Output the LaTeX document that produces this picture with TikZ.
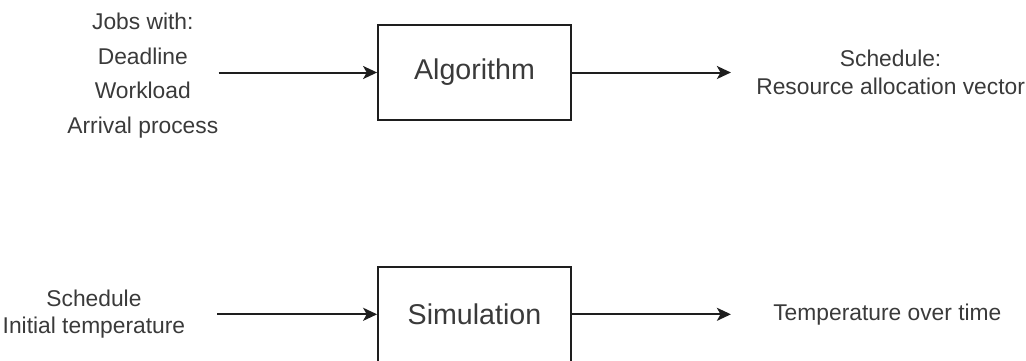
\documentclass[tikz,border=0pt]{standalone}
\usepackage{fontspec}
\setmainfont{Liberation Sans}
\usetikzlibrary{positioning,arrows.meta}
\definecolor{lbltext}{RGB}{58,58,58}
\definecolor{linedark}{RGB}{30,30,30}
\tikzset{
  procbox/.style={draw=linedark,line width=0.9pt,fill=white,text=lbltext,
    minimum width=96.5pt,minimum height=47.5pt,inner sep=0pt,
    font=\fontsize{14.3pt}{17pt}\selectfont},
  iolbl/.style={text=lbltext,align=center,inner ysep=0pt,inner xsep=0pt,
    font=\fontsize{11.4pt}{13.7pt}\selectfont},
  flow/.style={-{Stealth[length=7pt,width=6.5pt,inset=1.8pt]},line width=1pt,linedark},
}
\begin{document}
\begin{tikzpicture}
\useasboundingbox (0,0) rectangle (513pt,-180pt);
% upper row
\node[procbox] (alg) at (237.25pt,-36.25pt) {Algorithm};
\node[iolbl,font=\fontsize{11.4pt}{17.25pt}\selectfont,left=79.25pt of alg,yshift=-1.5pt] (jobs)
  {Jobs with:\\Deadline\\Workload\\Arrival process};
\node[iolbl,inner xsep=12.5pt,right=79.5pt of alg] (sched) {Schedule:\\Resource allocation vector};
% lower row
\node[procbox,below=72.5pt of alg] (sim) {Simulation};
\node[iolbl,inner xsep=15.75pt,left=80pt of sim] (simin) {Schedule\\Initial temperature};
\node[iolbl,inner xsep=21pt,right=79.5pt of sim] (temp) {Temperature over time};
\draw[flow](jobs.east|-alg)--(alg);\draw[flow](alg)--(sched);
\draw[flow](simin)--(sim);\draw[flow](sim)--(temp);
\end{tikzpicture}
\end{document}
